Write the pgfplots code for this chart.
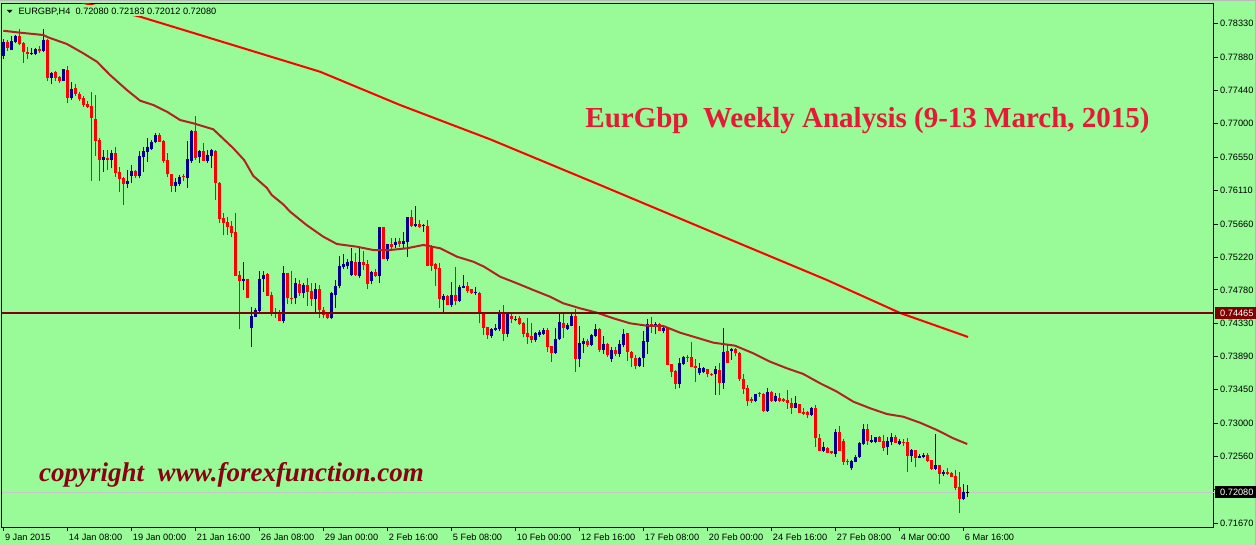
\documentclass[border=0pt]{standalone}
\usepackage{fontspec}
\setmainfont{Liberation Sans}
\newfontfamily\titlefont{Liberation Serif}
\usepackage{pgfplots}
\usepackage{pgfplotstable}
\pgfplotsset{compat=1.18}

\definecolor{bg}{RGB}{152,251,152}
\definecolor{bull}{RGB}{0,0,140}
\definecolor{bear}{RGB}{255,0,0}
\definecolor{maslow}{RGB}{255,0,0}
\definecolor{mafast}{RGB}{178,34,34}
\definecolor{hline}{RGB}{128,0,0}
\definecolor{ttl}{RGB}{230,25,55}
\definecolor{cpy}{RGB}{140,0,20}

% k o h l c  (bullish candles)
\pgfplotstableread{
k o h l c
0 0.77900 0.78122 0.77855 0.78091
2 0.77980 0.78167 0.77976 0.78100
3 0.78091 0.78180 0.78078 0.78167
8 0.77926 0.78002 0.77913 0.77993
10 0.77967 0.78255 0.77953 0.78113
12 0.77611 0.77691 0.77522 0.77677
15 0.77566 0.77730 0.77562 0.77726
17 0.77344 0.77549 0.77313 0.77460
25 0.76513 0.76646 0.76357 0.76557
27 0.76513 0.76646 0.76401 0.76602
31 0.76192 0.76379 0.76135 0.76232
32 0.76299 0.76446 0.76210 0.76366
34 0.76303 0.76633 0.76268 0.76566
35 0.76557 0.76682 0.76357 0.76633
36 0.76619 0.76802 0.76490 0.76682
37 0.76655 0.76779 0.76646 0.76753
38 0.76748 0.76868 0.76735 0.76846
43 0.76170 0.76277 0.76090 0.76215
44 0.76192 0.76312 0.76170 0.76281
46 0.76277 0.76766 0.76135 0.76521
47 0.76504 0.76913 0.76477 0.76899
49 0.76557 0.76646 0.76477 0.76633
51 0.76504 0.76646 0.76477 0.76579
52 0.76566 0.76659 0.76410 0.76646
60 0.74903 0.75156 0.74778 0.74925
62 0.74276 0.74552 0.74023 0.74436
63 0.74423 0.74534 0.74418 0.74512
64 0.74498 0.75032 0.74463 0.74925
65 0.74921 0.75032 0.74756 0.74979
70 0.74370 0.75099 0.74334 0.75001
73 0.74667 0.74934 0.74587 0.74876
75 0.74743 0.74867 0.74667 0.74845
78 0.74658 0.74867 0.74476 0.74787
82 0.74401 0.74756 0.74392 0.74734
83 0.74712 0.74912 0.74543 0.74836
84 0.74832 0.75232 0.74801 0.75099
85 0.75090 0.75254 0.75059 0.75125
86 0.75099 0.75188 0.75059 0.75156
87 0.74979 0.75343 0.74970 0.75165
89 0.74965 0.75334 0.74934 0.75156
92 0.74899 0.75032 0.74854 0.75023
94 0.74965 0.75618 0.74876 0.75614
96 0.75192 0.75392 0.75170 0.75388
98 0.75379 0.75475 0.75334 0.75419
100 0.75388 0.75557 0.75325 0.75437
101 0.75423 0.75752 0.75223 0.75748
103 0.75632 0.75899 0.75614 0.75659
105 0.75626 0.75659 0.75557 0.75639
110 0.74645 0.74721 0.74467 0.74703
112 0.74578 0.74881 0.74556 0.74712
114 0.74632 0.74845 0.74623 0.74823
115 0.74810 0.74979 0.74801 0.74836
118 0.74741 0.74818 0.74712 0.74754
122 0.74169 0.74267 0.74143 0.74254
123 0.74245 0.74321 0.74236 0.74276
124 0.74258 0.74512 0.74236 0.74454
126 0.74192 0.74490 0.74147 0.74481
128 0.74381 0.74432 0.74369 0.74394
133 0.74112 0.74223 0.74089 0.74200
134 0.74178 0.74245 0.74156 0.74214
135 0.74192 0.74267 0.74178 0.74245
138 0.73934 0.74276 0.73925 0.74120
139 0.74120 0.74467 0.74112 0.74347
141 0.74258 0.74334 0.74245 0.74312
142 0.74303 0.74454 0.74298 0.74432
144 0.73858 0.74298 0.73747 0.74076
145 0.74058 0.74134 0.73943 0.74103
147 0.74045 0.74192 0.74032 0.74178
148 0.74169 0.74325 0.74156 0.74258
150 0.73978 0.74165 0.73925 0.74058
152 0.73858 0.74014 0.73823 0.73978
154 0.73925 0.74112 0.73880 0.74058
155 0.74045 0.74254 0.74023 0.74192
159 0.73765 0.73880 0.73756 0.73867
160 0.73867 0.74232 0.73756 0.74098
161 0.74089 0.74387 0.73925 0.74325
163 0.74303 0.74347 0.74187 0.74325
165 0.74236 0.74298 0.74200 0.74276
169 0.73525 0.73867 0.73467 0.73800
170 0.73791 0.73898 0.73778 0.73889
174 0.73676 0.73809 0.73645 0.73734
175 0.73680 0.73747 0.73667 0.73734
178 0.73654 0.73765 0.73378 0.73720
180 0.73542 0.74267 0.73458 0.73956
182 0.73965 0.74000 0.73845 0.73991
188 0.73298 0.73396 0.73289 0.73391
191 0.73169 0.73467 0.73156 0.73422
193 0.73298 0.73409 0.73289 0.73365
198 0.73209 0.73365 0.73200 0.73276
202 0.73111 0.73213 0.73098 0.73200
205 0.72631 0.72747 0.72622 0.72689
208 0.72591 0.72928 0.72555 0.72883
212 0.72400 0.72511 0.72378 0.72498
213 0.72489 0.72578 0.72480 0.72555
214 0.72546 0.72755 0.72542 0.72742
215 0.72724 0.72986 0.72711 0.72920
217 0.72747 0.72844 0.72742 0.72778
218 0.72755 0.72822 0.72733 0.72813
221 0.72680 0.72822 0.72578 0.72769
222 0.72747 0.72874 0.72711 0.72822
224 0.72724 0.72791 0.72711 0.72764
227 0.72564 0.72653 0.72489 0.72644
229 0.72542 0.72591 0.72533 0.72569
230 0.72546 0.72609 0.72533 0.72578
233 0.72391 0.72858 0.72378 0.72444
235 0.72324 0.72378 0.72302 0.72355
240 0.71991 0.72186 0.71977 0.72088
}\bulltab

% bearish candles
\pgfplotstableread{
k o h l c
1 0.78091 0.78113 0.77971 0.78011
4 0.78167 0.78255 0.78047 0.78060
5 0.78078 0.78082 0.77811 0.77953
6 0.77958 0.78024 0.77864 0.77931
9 0.77989 0.78033 0.77944 0.77967
11 0.78113 0.78122 0.77566 0.77611
13 0.77691 0.77695 0.77571 0.77602
14 0.77624 0.77633 0.77535 0.77566
16 0.77713 0.77766 0.77277 0.77344
18 0.77473 0.77522 0.77366 0.77397
19 0.77393 0.77424 0.77304 0.77326
20 0.77340 0.77366 0.77215 0.77246
21 0.77264 0.77300 0.77202 0.77220
22 0.77237 0.77420 0.76237 0.77077
23 0.77059 0.77380 0.76566 0.76770
24 0.76779 0.76802 0.76237 0.76513
26 0.76544 0.76646 0.76379 0.76513
28 0.76610 0.76682 0.76290 0.76344
29 0.76348 0.76424 0.76090 0.76259
30 0.76268 0.76290 0.75912 0.76192
33 0.76366 0.76379 0.76277 0.76299
39 0.76846 0.76877 0.76748 0.76757
40 0.76766 0.76779 0.76477 0.76499
41 0.76513 0.76602 0.76290 0.76321
42 0.76326 0.76330 0.76090 0.76170
45 0.76295 0.76326 0.76232 0.76281
48 0.76899 0.77099 0.76513 0.76535
50 0.76633 0.76735 0.76500 0.76504
53 0.76633 0.76646 0.75979 0.76201
54 0.76210 0.76215 0.75668 0.75726
55 0.75739 0.75810 0.75508 0.75677
56 0.75690 0.75757 0.75512 0.75623
57 0.75632 0.75694 0.75490 0.75543
58 0.75552 0.75810 0.74966 0.74970
59 0.74979 0.75036 0.74254 0.74903
61 0.74925 0.74930 0.74670 0.74676
66 0.74988 0.75001 0.74698 0.74703
67 0.74712 0.74756 0.74436 0.74490
68 0.74481 0.74534 0.74409 0.74458
69 0.74467 0.74512 0.74365 0.74370
71 0.75001 0.75006 0.74587 0.74667
72 0.74667 0.75032 0.74587 0.74654
74 0.74854 0.74912 0.74699 0.74743
76 0.74845 0.74943 0.74570 0.74756
77 0.74765 0.74867 0.74570 0.74658
79 0.74787 0.74845 0.74409 0.74512
80 0.74512 0.74556 0.74409 0.74445
81 0.74481 0.74485 0.74392 0.74409
88 0.75156 0.75268 0.74970 0.74979
90 0.75156 0.75299 0.75045 0.75112
91 0.75125 0.75179 0.74792 0.74859
93 0.75023 0.75059 0.74956 0.74965
95 0.75614 0.75618 0.75188 0.75192
97 0.75392 0.75466 0.75325 0.75357
99 0.75437 0.75466 0.75348 0.75388
102 0.75748 0.75846 0.75614 0.75632
104 0.75659 0.75712 0.75601 0.75623
106 0.75632 0.75712 0.75095 0.75099
107 0.75365 0.75379 0.75032 0.75103
108 0.75125 0.75134 0.74832 0.75059
109 0.75076 0.75134 0.74543 0.74658
111 0.74699 0.74712 0.74574 0.74578
113 0.74712 0.75090 0.74574 0.74632
116 0.74836 0.74881 0.74743 0.74765
117 0.74787 0.74792 0.74725 0.74734
119 0.74743 0.74747 0.74334 0.74467
120 0.74476 0.74480 0.74178 0.74276
121 0.74280 0.74285 0.74125 0.74178
125 0.74476 0.74578 0.74103 0.74192
127 0.74432 0.74490 0.74334 0.74387
129 0.74410 0.74432 0.74312 0.74325
130 0.74343 0.74356 0.74147 0.74192
131 0.74209 0.74401 0.74058 0.74156
132 0.74165 0.74343 0.74076 0.74112
136 0.74245 0.74267 0.73956 0.74023
137 0.74032 0.74036 0.73823 0.73943
140 0.74334 0.74458 0.74143 0.74267
143 0.74432 0.74525 0.73689 0.73858
146 0.74103 0.74125 0.74023 0.74045
149 0.74258 0.74267 0.73947 0.73978
151 0.74058 0.74076 0.73889 0.73911
153 0.73978 0.74023 0.73898 0.73925
156 0.74200 0.74209 0.73836 0.73956
157 0.73956 0.73960 0.73756 0.73867
158 0.73876 0.73911 0.73725 0.73765
162 0.74325 0.74414 0.74200 0.74298
164 0.74325 0.74343 0.74232 0.74236
166 0.74276 0.74280 0.73774 0.73778
167 0.73791 0.73796 0.73622 0.73689
168 0.73702 0.73707 0.73458 0.73525
171 0.73887 0.73911 0.73823 0.73874
172 0.73880 0.74080 0.73752 0.73756
173 0.73765 0.73854 0.73547 0.73734
176 0.73720 0.73725 0.73614 0.73654
177 0.73658 0.73676 0.73636 0.73645
179 0.73711 0.73800 0.73378 0.73534
181 0.73965 0.74045 0.73800 0.73809
183 0.73991 0.74000 0.73903 0.73934
184 0.73943 0.73947 0.73565 0.73591
185 0.73591 0.73658 0.73391 0.73458
186 0.73467 0.73511 0.73231 0.73302
187 0.73325 0.73356 0.73276 0.73302
189 0.73398 0.73422 0.73356 0.73385
190 0.73391 0.73400 0.73156 0.73169
192 0.73422 0.73436 0.73289 0.73298
194 0.73342 0.73400 0.73289 0.73298
195 0.73325 0.73334 0.73289 0.73302
196 0.73311 0.73445 0.73191 0.73267
197 0.73276 0.73334 0.73124 0.73209
199 0.73258 0.73262 0.73133 0.73142
200 0.73156 0.73200 0.73111 0.73124
201 0.73147 0.73169 0.73067 0.73111
203 0.73209 0.73245 0.72689 0.72800
204 0.72800 0.72853 0.72627 0.72631
206 0.72675 0.72689 0.72600 0.72609
207 0.72631 0.72635 0.72591 0.72600
209 0.72883 0.72959 0.72627 0.72631
210 0.72769 0.72791 0.72444 0.72489
211 0.72495 0.72520 0.72444 0.72482
216 0.72924 0.72986 0.72711 0.72769
219 0.72822 0.72831 0.72747 0.72755
220 0.72769 0.72844 0.72635 0.72667
223 0.72822 0.72844 0.72737 0.72742
225 0.72753 0.72791 0.72702 0.72740
226 0.72747 0.72800 0.72355 0.72569
228 0.72644 0.72649 0.72422 0.72542
231 0.72578 0.72600 0.72489 0.72498
232 0.72511 0.72515 0.72378 0.72391
234 0.72444 0.72449 0.72186 0.72324
236 0.72346 0.72400 0.72311 0.72324
237 0.72333 0.72355 0.72280 0.72289
238 0.72302 0.72378 0.72111 0.72142
239 0.72155 0.72346 0.71808 0.71991
}\beartab

% doji candles (drawn black)
\pgfplotstableread{
k o h l c
7 0.77935 0.78002 0.77913 0.77935
241 0.72080 0.72183 0.72012 0.72080
}\dojitab

% moving averages
\pgfplotstableread{
k v
0 0.78237
4.2 0.78211
10 0.78180
11.2 0.78149
15.9 0.78060
20 0.77936
23.4 0.77824
26.7 0.77646
30.9 0.77446
34.2 0.77304
37.5 0.77246
40.9 0.77157
44.2 0.77046
47.5 0.77002
52.5 0.76922
57.5 0.76669
60.2 0.76513
62.5 0.76300
65.9 0.76140
67.1 0.76046
70 0.75920
71.7 0.75823
75.8 0.75646
80 0.75489
83.4 0.75392
88.4 0.75356
92.5 0.75312
96.7 0.75312
100.9 0.75335
105 0.75379
109.2 0.75335
113.4 0.75223
117.5 0.75156
120.2 0.75089
124.2 0.74956
128.4 0.74868
132.5 0.74778
136.7 0.74689
140 0.74601
144.2 0.74534
148.4 0.74476
152.5 0.74401
156.7 0.74334
160.9 0.74302
165 0.74298
169.2 0.74209
173.4 0.74142
177.5 0.74076
182.9 0.74036
187.5 0.73934
191.7 0.73822
195.9 0.73734
200 0.73658
204.2 0.73534
208.4 0.73422
212.5 0.73289
216.7 0.73201
220.9 0.73124
225 0.73088
229.2 0.73008
233.4 0.72911
237.5 0.72800
241 0.72724
}\mafasttab

\pgfplotstableread{
k v
0 0.78906
20.9 0.78596
34.2 0.78424
49.2 0.78180
79.2 0.77690
99.2 0.77246
121.7 0.76789
149.2 0.76179
174.2 0.75619
205.9 0.74912
224.2 0.74472
241.2 0.74152
}\maslowtab

\newcommand{\tickfont}{\fontsize{9.2}{11}\selectfont}

\pgfplotsset{
  candle/.style n args={2}{draw=none, mark=none, forget plot,
    error bars/.cd, y dir=plus, y explicit, error mark=none,
    error bar style={line width=#2, draw=#1, solid}},
}

\begin{document}
\begin{tikzpicture}
\useasboundingbox (0,0) rectangle (1256pt,-545pt);
\fill[bg] (0,0) rectangle (1256pt,-545pt);
\fill[gray!55] (0,0) rectangle (1256pt,-1.5pt);
\fill[gray!55] (1254.5pt,0) rectangle (1256pt,-545pt);
\begin{axis}[
  at={(1.7pt,-527pt)}, anchor=south west,
  scale only axis, width=1212.3pt, height=523.7pt,
  xmin=-0.4, xmax=302.675, ymin=0.71617, ymax=0.78603,
  axis line style={black, line width=1pt},
  tick align=outside, major tick length=4pt,
  tick style={black, line width=0.8pt},
  xtick pos=bottom, ytick pos=right, yticklabel pos=right,
  xtick={0,16,...,240},
  xticklabels={9 Jan 2015, 14 Jan 08:00, 19 Jan 00:00, 21 Jan 16:00, 26 Jan 08:00, 29 Jan 00:00, 2 Feb 16:00, 5 Feb 08:00, 10 Feb 00:00, 12 Feb 16:00, 17 Feb 08:00, 20 Feb 00:00, 24 Feb 16:00, 27 Feb 08:00, 4 Mar 00:00, 6 Mar 16:00},
  ytick={0.78330,0.77880,0.77440,0.77000,0.76550,0.76110,0.75660,0.75220,0.74780,0.74330,0.73890,0.73450,0.73000,0.72560,0.72120,0.71670},
  yticklabels={0.78330,0.77880,0.77440,0.77000,0.76550,0.76110,0.75660,0.75220,0.74780,0.74330,0.73890,0.73450,0.73000,0.72560,{},0.71670},
  xticklabel style={anchor=north west, inner sep=0pt, xshift=1.5pt, yshift=-3pt, font=\tickfont},
  yticklabel style={anchor=west, inner sep=0pt, xshift=2pt, font=\tickfont},
  clip=true,
]
% reference line at current price
\addplot[color=gray!45, line width=1pt, forget plot] coordinates {(-0.4,0.72080) (302.675,0.72080)};
% wicks
\addplot[candle={bull}{1pt}] table[x=k, y=l, y error plus expr=\thisrow{h}-\thisrow{l}] {\bulltab};
\addplot[candle={bear}{1pt}] table[x=k, y=l, y error plus expr=\thisrow{h}-\thisrow{l}] {\beartab};
\addplot[candle={black}{1pt}] table[x=k, y=l, y error plus expr=\thisrow{h}-\thisrow{l}] {\dojitab};
% bodies
\addplot[candle={bull}{3pt}] table[x=k, y=o, y error plus expr=\thisrow{c}-\thisrow{o}] {\bulltab};
\addplot[candle={bear}{3pt}] table[x=k, y=c, y error plus expr=\thisrow{o}-\thisrow{c}] {\beartab};
\addplot[only marks, mark=-, mark size=1.5pt, mark options={line width=1pt, draw=black}, forget plot]
  table[x=k, y=c] {\dojitab};
% moving averages
\addplot[color=mafast, line width=2pt, forget plot] table[x=k, y=v] {\mafasttab};
\addplot[color=maslow, line width=2pt, forget plot] table[x=k, y=v] {\maslowtab};
% horizontal level
\addplot[color=hline, line width=2pt, forget plot] coordinates {(-0.4,0.74465) (302.675,0.74465)};
\end{axis}
% header
\fill[bg] (3pt,-5.5pt) rectangle (222pt,-16pt);
\fill[black] (6.8pt,-9.8pt) -- (12.6pt,-9.8pt) -- (9.7pt,-13pt) -- cycle;
\node[anchor=base west, inner sep=0pt, font=\tickfont] at (18.3pt,-15pt) {EURGBP,H4\ \ 0.72080 0.72183 0.72012 0.72080};
% price labels
\fill[hline] (1215pt,-307.5pt) rectangle (1256pt,-319.5pt);
\node[anchor=west, inner sep=0pt, text=white, font=\tickfont] at (1220pt,-313.5pt) {0.74465};
\fill[black] (1215pt,-486.3pt) rectangle (1256pt,-498.3pt);
\node[anchor=west, inner sep=0pt, text=white, font=\tickfont] at (1220pt,-492.3pt) {0.72080};
% texts
\node[anchor=base, inner sep=0pt, text=ttl, font=\titlefont\bfseries\fontsize{29}{32}\selectfont] at (867.5pt,-128pt) {EurGbp\ \ Weekly Analysis (9-13 March, 2015)};
\node[anchor=base, inner sep=0pt, text=cpy, font=\titlefont\bfseries\itshape\fontsize{27}{30}\selectfont] at (231.5pt,-481pt) {copyright\ \ www.forexfunction.com};
\end{tikzpicture}
\end{document}
